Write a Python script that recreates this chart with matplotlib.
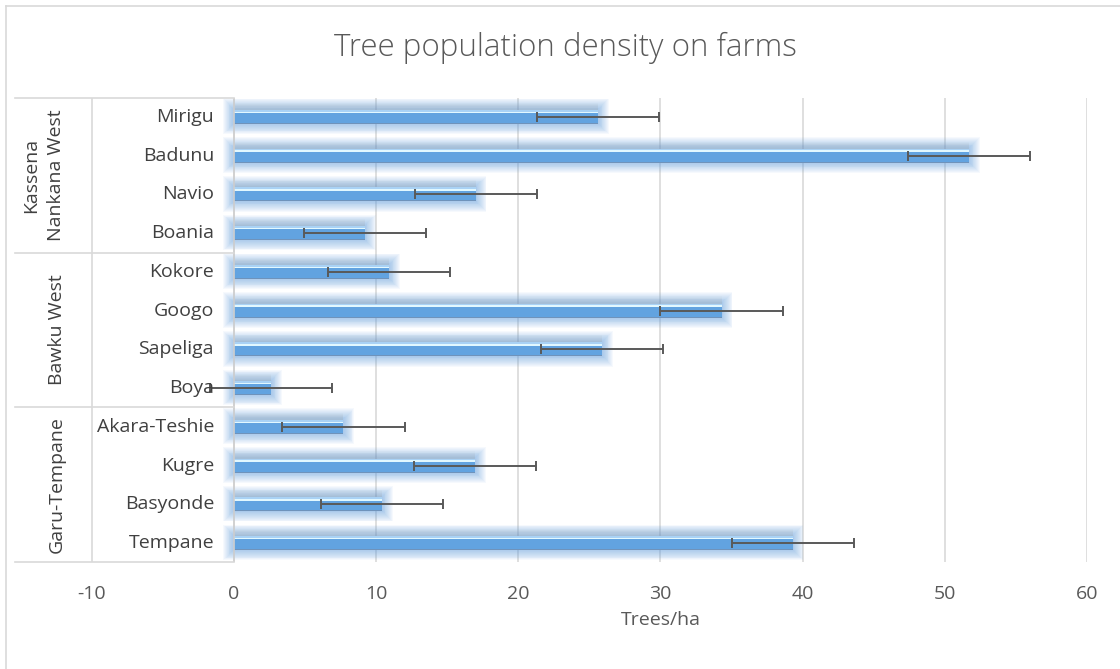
import matplotlib
matplotlib.use("Agg")
import matplotlib.pyplot as plt
from matplotlib.lines import Line2D
import numpy as np

plt.rcParams['font.family'] = ['Open Sans', 'DejaVu Sans']

# ---- data ----
sites = ["Mirigu", "Badunu", "Navio", "Boania",
         "Kokore", "Googo", "Sapeliga", "Boya",
         "Akara-Teshie", "Kugre", "Basyonde", "Tempane"]
groups = ["Kassena\nNankana West", "Bawku West", "Garu-Tempane"]
group_sizes = [4, 4, 4]
density = [25.6, 51.7, 17.0, 9.2,
           10.9, 34.3, 25.9, 2.6,
           7.7, 16.95, 10.4, 39.3]
std_err = 4.3
xticks = [-10, 0, 10, 20, 30, 40, 50, 60]
title = "Tree population density on farms"
xlabel = "Trees/ha"

W, H = 1120, 669
fig = plt.figure(figsize=(W / 100, H / 100), dpi=100)
fig.patch.set_facecolor("white")

# outer chart border (top and left visible)
fig.add_artist(Line2D([6 / W, 6 / W], [0, 1 - 6 / H], color="#d9d9d9", lw=1.2))
fig.add_artist(Line2D([6 / W, 1], [1 - 6 / H, 1 - 6 / H], color="#d9d9d9", lw=1.2))

left_px, right_px, top_px, bot_px = 15, 1087, 97.6, 562.4
ax = fig.add_axes([left_px / W, 1 - bot_px / H, (right_px - left_px) / W, (bot_px - top_px) / H])
xmin = -15.4
ax.set_xlim(xmin, 60)
n = len(sites)
ax.set_ylim(n - 0.5, -0.5)
for s in ax.spines.values():
    s.set_visible(False)

pxx = (60 - xmin) / (right_px - left_px)  # data per px in x
pxy = n / (bot_px - top_px)                # data per px in y

# gridlines only over the value region
for t in xticks:
    if t >= 0:
        ax.axvline(t, color="#d9d9d9", lw=1.2, zorder=0)

y = np.arange(n)
bh = 0.36

# soft glow layers
for k in range(12, 0, -1):
    dx = k * 0.9 * pxx
    dy = k * 0.9 * pxy
    ax.barh(y - 0.6 * pxy, [d + 2 * dx for d in density], height=bh + 2 * dy, left=-dx,
            color="#5d9ddd", alpha=0.055, edgecolor="none", zorder=1)
# subtle grey shade above bars
for k in range(6, 0, -1):
    dy = k * 1.2 * pxy
    ax.barh(y - bh / 2 - dy / 2, density, height=dy, color="#9a9a9a", alpha=0.04,
            edgecolor="none", zorder=1)
# main bars
ax.barh(y, density, height=bh, color="#62a3e0", edgecolor="none", zorder=2)
# slightly darker bottom edge
ax.barh(y + bh / 2 - 0.5 * pxy, density, height=1.0 * pxy, color="#6f93bb", edgecolor="none", zorder=3)
# light top band + highlight
ax.barh(y - bh / 2 + 1.0 * pxy, density, height=2.0 * pxy, color="#a9d2f5", edgecolor="none", zorder=3)
ax.barh(y - bh / 2 + 2.5 * pxy, density, height=1.6 * pxy, color="#e2f8ff", edgecolor="none", zorder=3)

# error bars
ax.errorbar(density, y, xerr=std_err, fmt="none", ecolor="#595959",
            elinewidth=1.4, capsize=3.6, capthick=1.4, zorder=5)

# axis line at 0
ax.axvline(0, color="#d0d0d0", lw=1.2, zorder=4)

# category table
tc = "#d9d9d9"
start = 0
bounds = [-0.5]
for gs in group_sizes:
    start += gs
    bounds.append(start - 0.5)
for b in bounds:
    ax.plot([xmin, 0], [b, b], color=tc, lw=1.2, zorder=4, clip_on=False)
ax.plot([-10, -10], [-0.5, n - 0.5], color=tc, lw=1.2, zorder=4)

fs = 14
for i, s in enumerate(sites):
    ax.text(-1.4, i, s, ha="right", va="center", fontsize=fs, color="#404040", zorder=6)

start = 0
gx = [-13.4, -12.45, -12.45]
for g, gs, x in zip(groups, group_sizes, gx):
    c = start + (gs - 1) / 2
    ax.text(x, c, g, rotation=90, ha="center", va="center", fontsize=fs,
            color="#404040", multialignment="center", linespacing=1.45, zorder=6)
    start += gs

ax.set_yticks([])
ax.set_xticks(xticks)
ax.set_xticklabels([str(t) for t in xticks])
ax.tick_params(axis="x", length=0, pad=16, labelsize=fs, labelcolor="#595959")

ax.text(30, n - 0.5 + 58 * pxy, xlabel, ha="center", va="center", fontsize=fs, color="#595959")
fig.text(565 / W, 1 - 48 / H, title, ha="center", va="center", fontsize=22.5, color="#595959",
         fontweight="light")

fig.savefig("out.png", dpi=100, facecolor="white")
